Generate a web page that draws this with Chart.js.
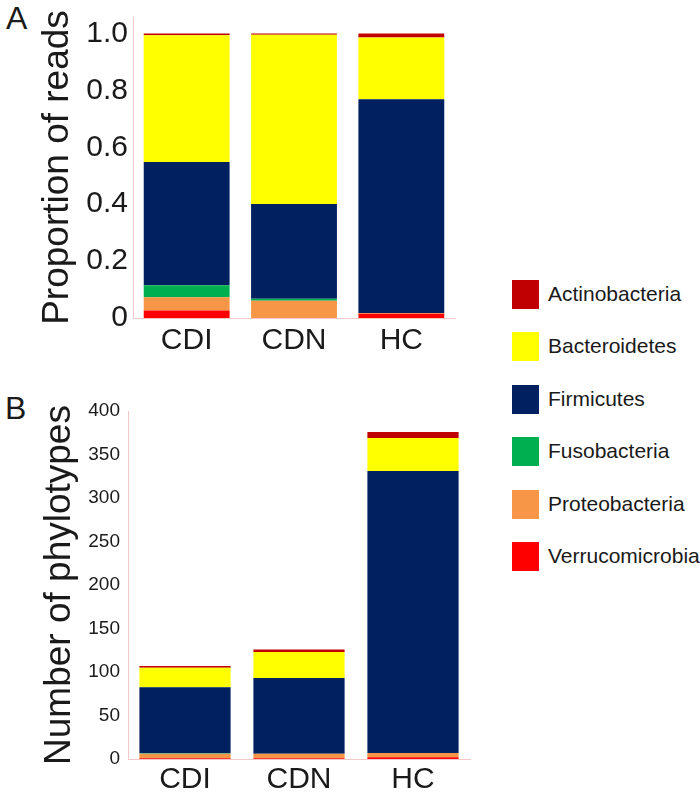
<!DOCTYPE html>
<html>
<head>
<meta charset="UTF-8">
<title>Phyla</title>
<script src="https://cdn.jsdelivr.net/npm/chart.js@4"></script>
<style>
  body { margin: 0; background: #fff; font-family: "Liberation Sans", Arial, sans-serif; color: #1a1a1a; }
  #wrap { position: relative; width: 700px; height: 797px; }
  canvas { position: absolute; }
  #chartA { left: 0; top: 0; }
  #chartB { left: 0; top: 380px; }
  .panel { position: absolute; font-size: 32px; line-height: 1; }
  .item { position: absolute; left: 512px; height: 29px; }
  .item span.box { position: absolute; left: 0; top: 0; width: 27px; height: 29px; }
  .item span.lbl { position: absolute; left: 36px; top: 2px; font-size: 21px; white-space: nowrap; }
</style>
</head>
<body>
<div id="wrap">
  <div class="panel" style="left:6px;top:2px;">A</div>
  <div class="panel" style="left:5px;top:392px;">B</div>
  <canvas id="chartA" width="470" height="360"></canvas>
  <canvas id="chartB" width="480" height="417"></canvas>
  <div id="legend"></div>
</div>
<script>
// --- categories & phyla ---
const groups = ['CDI', 'CDN', 'HC'];
const phyla = ['Actinobacteria', 'Bacteroidetes', 'Firmicutes', 'Fusobacteria', 'Proteobacteria', 'Verrucomicrobia'];
const colors = ['#c00000', '#ffff00', '#002060', '#00b050', '#f79646', '#ff0000'];

// --- A: proportion of reads ---
const readsActino = [0.006, 0.004, 0.014];
const readsBactero = [0.446, 0.595, 0.217];
const readsFirmi = [0.433, 0.333, 0.751];
const readsFuso = [0.042, 0.007, 0];
const readsProteo = [0.047, 0.061, 0.003];
const readsVerruco = [0.026, 0, 0.015];
const ticksA = [0, 0.2, 0.4, 0.6, 0.8, 1.0];

// --- B: number of phylotypes ---
const otuActino = [2, 3, 7];
const otuBactero = [22.5, 30, 38];
const otuFirmi = [76, 87, 324];
const otuFuso = [0.5, 0, 0];
const otuProteo = [5, 5, 5];
const otuVerruco = [1, 1, 2];
const ticksB = [0, 50, 100, 150, 200, 250, 300, 350, 400];

const FONT = "'Liberation Sans', Arial, sans-serif";
const TXT = '#1a1a1a';
const AXIS = '#f0c8c8';

function makeDatasets(rows) {
    // stack from the bottom: Verrucomicrobia first, Actinobacteria on top
    return rows.map((data, i) => ({ label: phyla[i], data: data, backgroundColor: colors[i], borderWidth: 0 })).reverse();
}

function makeChart(id, rows, opts) {
    return new Chart(document.getElementById(id), {
        type: 'bar',
        data: { labels: groups, datasets: makeDatasets(rows) },
        options: {
            responsive: false,
            animation: false,
            categoryPercentage: 1,
            barPercentage: 0.8,
            layout: { padding: opts.padding },
            plugins: { legend: { display: false }, tooltip: { enabled: false } },
            scales: {
                x: {
                    stacked: true,
                    grid: { display: false, drawTicks: false },
                    border: { color: AXIS, width: 1 },
                    ticks: { color: TXT, font: { family: FONT, size: 30 }, padding: opts.xPad },
                    afterFit: s => { s.height = opts.xHeight; }
                },
                y: {
                    stacked: true,
                    min: 0,
                    max: opts.max,
                    grid: { display: false, drawTicks: false },
                    border: { color: AXIS, width: 1 },
                    afterBuildTicks: s => { s.ticks = opts.ticks.map(v => ({ value: v })); },
                    ticks: {
                        color: TXT,
                        font: { family: FONT, size: opts.tickSize },
                        padding: opts.yPad,
                        callback: opts.fmt
                    },
                    title: {
                        display: true,
                        text: opts.title,
                        color: TXT,
                        font: { family: FONT, size: 37 },
                        padding: { top: opts.titlePad, bottom: 0 }
                    },
                    afterFit: s => { s.width = opts.yWidth; s.paddingTop = 0; s.paddingBottom = 0; }
                }
            }
        }
    });
}

makeChart('chartA', [readsActino, readsBactero, readsFirmi, readsFuso, readsProteo, readsVerruco], {
    padding: { left: 0, right: 15, top: 17, bottom: 0 },
    xHeight: 42, xPad: 5, yPad: 5, yWidth: 133, max: 1.058, ticks: ticksA, tickSize: 30,
    fmt: v => v === 0 ? '0' : v.toFixed(1),
    title: 'Proportion of reads', titlePad: 36
});

makeChart('chartB', [otuActino, otuBactero, otuFirmi, otuFuso, otuProteo, otuVerruco], {
    padding: { left: 0, right: 10, top: 31, bottom: 0 },
    xHeight: 38, xPad: 3, yPad: 8, yWidth: 128, max: 400, ticks: ticksB, tickSize: 19,
    fmt: v => String(v),
    title: 'Number of phylotypes', titlePad: 38
});

// legend, built from the same arrays
const legend = document.getElementById('legend');
phyla.forEach((name, i) => {
    const d = document.createElement('div');
    d.className = 'item';
    d.style.top = (280 + i * 52.4) + 'px';
    d.innerHTML = '<span class="box" style="background:' + colors[i] + '"></span><span class="lbl">' + name + '</span>';
    legend.appendChild(d);
});
</script>
</body>
</html>
